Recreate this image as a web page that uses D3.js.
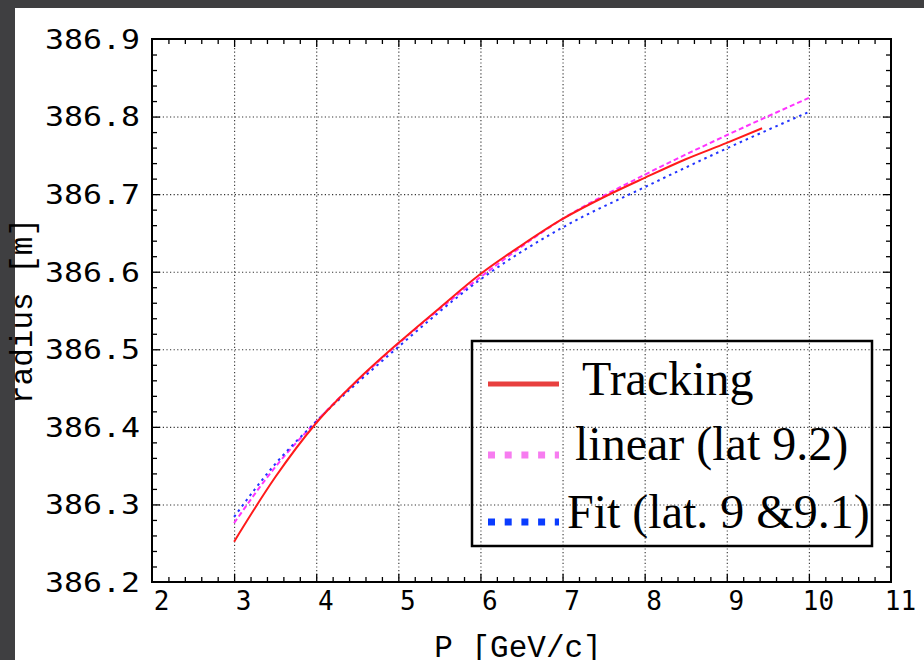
<!DOCTYPE html>
<html>
<head>
<meta charset="utf-8">
<script src="https://cdn.jsdelivr.net/npm/d3@7"></script>
<style>
  html, body { margin: 0; padding: 0; background: #3f3f41; }
  svg { display: block; }
</style>
</head>
<body>
<svg id="chart" width="924" height="660"></svg>
<script>
// Orbit radius versus momentum: tracking result and two lattice models
const trackingP = [3, 3.5, 4, 4.5, 5, 5.5, 6, 6.5, 7, 7.5, 8, 8.5, 9, 9.43];
const trackingR = [386.252, 386.335, 386.405, 386.460, 386.508, 386.553, 386.597, 386.634, 386.668, 386.696, 386.721, 386.745, 386.766, 386.785];

const linearP = [3, 3.5, 4, 5, 6, 7, 8, 9, 10];
const linearR = [386.276, 386.348, 386.407, 386.507, 386.593, 386.668, 386.725, 386.776, 386.824];

const fitP = [3, 3.5, 4, 5, 6, 7, 8, 9, 10];
const fitR = [386.284, 386.352, 386.407, 386.503, 386.590, 386.657, 386.709, 386.759, 386.806];

const xTickLabels = [2, 3, 4, 5, 6, 7, 8, 9, 10, 11];
const yTickLabels = [386.2, 386.3, 386.4, 386.5, 386.6, 386.7, 386.8, 386.9];

const legendNames = ["Tracking", "linear (lat 9.2)", "Fit (lat. 9 &9.1)"];

const svg = d3.select("#chart");

// white page area
svg.append("rect").attr("x", 15).attr("y", 8).attr("width", 909).attr("height", 652).attr("fill", "#fff");

const plot = { left: 152, top: 39, right: 891, bottom: 582 };
const W = plot.right - plot.left, H = plot.bottom - plot.top;

const x = d3.scaleLinear().domain([2, 11]).range([0, W]);
const y = d3.scaleLinear().domain([386.2, 386.9]).range([H, 0]);

const g = svg.append("g").attr("transform", `translate(${plot.left},${plot.top})`);

const majorX = xTickLabels.slice(1, -1);
const majorY = yTickLabels.slice(1, -1);
const minorX = d3.range(0, 46).map(i => 2 + i * 0.2).filter(v => Math.abs(v - Math.round(v)) > 1e-6);
const minorY = d3.range(0, 36).map(i => 386.2 + i * 0.02).filter(v => Math.abs(v * 10 - Math.round(v * 10)) > 1e-6);

// dotted grid
const gridX = g.append("g").attr("transform", `translate(0,${H})`)
  .call(d3.axisBottom(x).tickValues(majorX).tickSize(-H).tickFormat(""));
const gridY = g.append("g")
  .call(d3.axisLeft(y).tickValues(majorY).tickSize(-W).tickFormat(""));
[gridX, gridY].forEach(a => {
  a.select(".domain").remove();
  a.selectAll("line").attr("stroke", "#333").attr("stroke-width", 1.1).attr("stroke-dasharray", "1.2,2.4");
});

// inward ticks on all four sides
function tickAxis(axisFn, vals, size, transform) {
  const a = g.append("g").attr("transform", transform || null)
    .call(axisFn.tickValues(vals).tickSize(-size).tickFormat(""));
  a.select(".domain").remove();
  a.selectAll("line").attr("stroke", "#000").attr("stroke-width", 1.3);
}
tickAxis(d3.axisBottom(x), minorX, 5, `translate(0,${H})`);
tickAxis(d3.axisBottom(x), majorX, 8, `translate(0,${H})`);
tickAxis(d3.axisTop(x), minorX, 5);
tickAxis(d3.axisTop(x), majorX, 8);
tickAxis(d3.axisLeft(y), minorY, 5);
tickAxis(d3.axisLeft(y), majorY, 8);
tickAxis(d3.axisRight(y), minorY, 5, `translate(${W},0)`);
tickAxis(d3.axisRight(y), majorY, 8, `translate(${W},0)`);

// tick labels
const xLab = g.append("g").attr("transform", `translate(0,${H})`)
  .call(d3.axisBottom(x).tickValues(xTickLabels).tickSize(0).tickPadding(10).tickFormat(d3.format("d")));
xLab.select(".domain").remove();
xLab.selectAll("text")
  .attr("dx", 9)
  .attr("font-family", "'DejaVu Sans Mono', monospace")
  .attr("font-size", 26).attr("fill", "#000");

const yLab = g.append("g")
  .call(d3.axisLeft(y).tickValues(yTickLabels).tickSize(0).tickPadding(12).tickFormat(d3.format(".1f")));
yLab.select(".domain").remove();
yLab.selectAll("text")
  .attr("dy", "0.36em")
  .attr("font-family", "'DejaVu Sans Mono', monospace")
  .attr("font-size", 26).attr("fill", "#000")
  .attr("textLength", 95).attr("lengthAdjust", "spacingAndGlyphs");

// curves
const line = d3.line().x(d => x(d[0])).y(d => y(d[1])).curve(d3.curveMonotoneX);
const zip = (a, b) => a.map((v, i) => [v, b[i]]);

g.append("path").datum(zip(linearP, linearR)).attr("d", line)
  .attr("fill", "none").attr("stroke", "#ff33ff").attr("stroke-width", 2).attr("stroke-dasharray", "5,3");
g.append("path").datum(zip(fitP, fitR)).attr("d", line)
  .attr("fill", "none").attr("stroke", "#2233ff").attr("stroke-width", 2).attr("stroke-dasharray", "2.5,4");
g.append("path").datum(zip(trackingP, trackingR)).attr("d", line)
  .attr("fill", "none").attr("stroke", "#ff1a1a").attr("stroke-width", 2);

// frame
g.append("rect").attr("width", W).attr("height", H)
  .attr("fill", "none").attr("stroke", "#000").attr("stroke-width", 2);

// axis titles
svg.append("text").attr("x", 518).attr("y", 657).attr("text-anchor", "middle")
  .attr("font-family", "'Liberation Mono', 'Courier New', monospace").attr("font-size", 31)
  .text("P [GeV/c]");
svg.append("text").attr("transform", "translate(32,311) rotate(-90)").attr("text-anchor", "middle")
  .attr("font-family", "'Liberation Mono', 'Courier New', monospace").attr("font-size", 31)
  .text("radius [m]");

// legend
const legend = svg.append("g");
legend.append("rect").attr("x", 472).attr("y", 341).attr("width", 400).attr("height", 205)
  .attr("fill", "none").attr("stroke", "#000").attr("stroke-width", 2.5);
const legendStyles = [
  { color: "#e8403f", dash: null, ly: 384, tx: 582, ty: 395 },
  { color: "#f77cf0", dash: "7,9.7", ly: 455, tx: 575, ty: 460 },
  { color: "#0a3cff", dash: "7,9.7", ly: 522, tx: 567, ty: 528 }
];
legendNames.forEach((name, i) => {
  const s = legendStyles[i];
  legend.append("line").attr("x1", 488).attr("x2", 559).attr("y1", s.ly).attr("y2", s.ly)
    .attr("stroke", s.color).attr("stroke-width", i === 0 ? 5 : 7)
    .attr("stroke-dasharray", s.dash);
  legend.append("text").attr("x", s.tx).attr("y", s.ty)
    .attr("font-family", "'Liberation Serif', 'Times New Roman', serif").attr("font-size", 48)
    .attr("fill", "#000").text(name);
});
</script>
</body>
</html>
